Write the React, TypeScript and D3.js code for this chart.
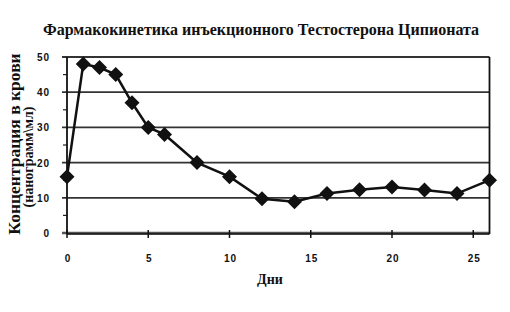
import React from "react";
import * as d3 from "d3";

const days = [0, 1, 2, 3, 4, 5, 6, 8, 10, 12, 14, 16, 18, 20, 22, 24, 26];
const conc = [16, 48, 47, 45, 37, 30, 28, 20, 16, 9.7, 8.9, 11.2, 12.3, 13.1, 12.2, 11.2, 15];
const xTicks = [0, 5, 10, 15, 20, 25];
const yTicks = [0, 10, 20, 30, 40, 50];
const yMinor = [5, 15, 25, 35, 45];
const title = "Фармакокинетика инъекционного Тестостерона Ципионата";
const yLabel1 = "Концентрация в крови";
const yLabel2 = "(нанограмм\\мл)";
const xLabel = "Дни";

export default function App() {
  const W = 510, H = 312;
  const x = d3.scaleLinear().domain([0, 26]).range([67, 489.5]);
  const y = d3.scaleLinear().domain([0, 50]).range([233, 57]);
  const line = d3.line<number>().x((_, i) => x(days[i])).y((d) => y(d));
  const sans = "Liberation Sans, Arial, sans-serif";
  const serif = "Liberation Serif, DejaVu Serif, serif";
  const diamond = (cx: number, cy: number, r: number) =>
    `M${cx},${cy - r}L${cx + r},${cy}L${cx},${cy + r}L${cx - r},${cy}Z`;
  return (
    <svg width={W} height={H} style={{ position: "absolute", left: 0, top: 0, background: "#fff" }}>
      <rect width={W} height={H} fill="#fff" />
      <text x={261} y={35} textAnchor="middle" style={{ fontFamily: serif }} fontWeight="bold" fontSize={16} fill="#111">
        {title}
      </text>
      {yTicks.map((t) => (
        <line key={"g" + t} x1={62} x2={x(26)} y1={y(t)} y2={y(t)} stroke={t === 0 ? "#555" : "#333"} strokeWidth={t === 0 ? 2.5 : 1.8} />
      ))}
      {yMinor.map((t) => (
        <line key={"m" + t} x1={63} x2={67} y1={y(t)} y2={y(t)} stroke="#222" strokeWidth={1.2} />
      ))}
      <line x1={67} x2={67} y1={y(50)} y2={y(0) + 1} stroke="#111" strokeWidth={1.8} />
      <line x1={x(26)} x2={x(26)} y1={y(50)} y2={y(0) + 1} stroke="#111" strokeWidth={1.8} />
      <line x1={67} x2={x(26)} y1={y(0) + 1} y2={y(0) + 1} stroke="#111" strokeWidth={1.5} />
      {xTicks.map((t) => (
        <line key={"xt" + t} x1={x(t)} x2={x(t)} y1={y(0) - 3} y2={y(0) + 5} stroke="#111" strokeWidth={1.5} />
      ))}
      {yTicks.map((t) => (
        <text key={"yl" + t} x={50} y={y(t) + 4} textAnchor="end" style={{ fontFamily: sans }} fontWeight="bold" fontSize={10} letterSpacing={1} fill="#111">
          {t}
        </text>
      ))}
      {xTicks.map((t) => (
        <text key={"xl" + t} x={x(t) + 1} y={262} textAnchor="middle" style={{ fontFamily: sans }} fontWeight="bold" fontSize={10} letterSpacing={1} fill="#111">
          {t}
        </text>
      ))}
      <text x={270} y={284} textAnchor="middle" style={{ fontFamily: serif }} fontWeight="bold" fontSize={14} fill="#111">
        {xLabel}
      </text>
      <text transform="translate(20,144) rotate(-90)" textAnchor="middle" style={{ fontFamily: serif }} fontWeight="bold" fontSize={17.5} fill="#111">
        {yLabel1}
      </text>
      <text transform="translate(33,157) rotate(-90)" textAnchor="middle" style={{ fontFamily: serif }} fontWeight="bold" fontSize={14} fill="#111">
        {yLabel2}
      </text>
      <path d={line(conc) || ""} fill="none" stroke="#111" strokeWidth={2.5} />
      {conc.map((v, i) => (
        <path key={"p" + i} d={diamond(x(days[i]), y(v), 7.5)} fill="#111" />
      ))}
    </svg>
  );
}
